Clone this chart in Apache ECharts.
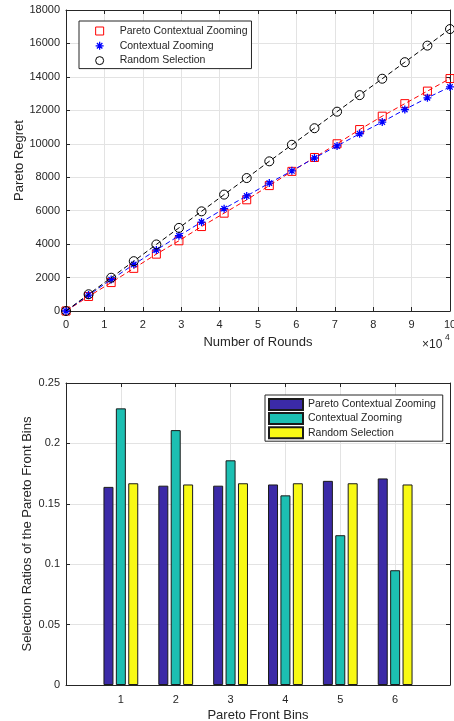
<!DOCTYPE html>
<html>
<head>
<meta charset="utf-8">
<script src="https://cdn.jsdelivr.net/npm/echarts@6/dist/echarts.min.js"></script>
<style>
  html, body { margin: 0; padding: 0; background: #fff; }
  #chart { width: 454px; height: 721px; }
</style>
</head>
<body>
<div id="chart"></div>
<script>
// top panel: regret vs rounds
var rounds = [0, 5882, 11765, 17647, 23529, 29412, 35294, 41176, 47059, 52941,
  58824, 64706, 70588, 76471, 82353, 88235, 94118, 100000]
var paretoCZ = [0, 870, 1700, 2550, 3400, 4200, 5050, 5850, 6650, 7500,
  8350, 9180, 10000, 10850, 11650, 12400, 13150, 13900]
var contextZ = [0, 950, 1880, 2780, 3650, 4500, 5320, 6120, 6880, 7650,
  8380, 9150, 9870, 10600, 11300, 12050, 12750, 13400]
var randomSel = [0, 1000, 1990, 2980, 3980, 4970, 5960, 6960, 7950, 8950,
  9940, 10930, 11920, 12910, 13890, 14880, 15870, 16860]

// bottom panel: selection ratios per bin
var bins = [1, 2, 3, 4, 5, 6]
var ratioPCZ = [0.164, 0.165, 0.165, 0.166, 0.169, 0.171]
var ratioCZ = [0.229, 0.211, 0.186, 0.157, 0.124, 0.095]
var ratioRS = [0.167, 0.166, 0.167, 0.167, 0.167, 0.166]

var names = ['Pareto Contextual Zooming', 'Contextual Zooming', 'Random Selection']

var ink = '#262626'
var gridGray = '#e3e3e3'
var font = 'Liberation Sans, Arial, Helvetica, sans-serif'
var starPath = 'path://M5,0L5,10M0,5L10,5M1.6,1.6L8.4,8.4M8.4,1.6L1.6,8.4'
var squarePath = 'path://M0,0L10,0L10,10L0,10Z'
var barColors = ['#3b2aa7', '#1cbfb2', '#f8f914']

function pairs(xs, ys) {
  return xs.map(function (x, i) { return [x, ys[i]] })
}

function boxAxis(type, gridIndex, pos, opt) {
  // mirror axis for the MATLAB-style box with inward ticks
  return Object.assign({
    type: 'value',
    gridIndex: gridIndex,
    position: pos,
    axisLine: { show: true, onZero: false, lineStyle: { color: ink, width: 1 } },
    axisTick: { show: true, inside: true, length: 4, lineStyle: { color: ink } },
    axisLabel: { show: false },
    splitLine: { show: false }
  }, opt)
}

var chart = echarts.init(document.getElementById('chart'), null, { renderer: 'canvas' })

chart.setOption({
  animation: false,
  backgroundColor: '#fff',
  textStyle: { fontFamily: font, color: ink },
  grid: [
    { left: 66, width: 384, top: 10, height: 301, outerBoundsMode: 'none' },
    { left: 66, width: 384, top: 383, height: 302, outerBoundsMode: 'none' }
  ],
  xAxis: [
    {
      type: 'value', gridIndex: 0, min: 0, max: 100000, interval: 10000,
      name: 'Number of Rounds', nameLocation: 'middle', nameGap: 25, nameMoveOverlap: false,
      nameTextStyle: { fontSize: 13, color: ink, fontFamily: font },
      axisLine: { show: true, onZero: false, lineStyle: { color: ink, width: 1 } },
      axisTick: { show: true, inside: true, length: 4, lineStyle: { color: ink } },
      axisLabel: { fontSize: 11, color: ink, margin: 8, fontFamily: font,
        formatter: function (v) { return String(v / 10000) } },
      splitLine: { show: true, lineStyle: { color: gridGray, width: 1 } }
    },
    boxAxis('value', 0, 'top', { min: 0, max: 100000, interval: 10000 }),
    {
      type: 'value', gridIndex: 1, min: 0, max: 7, interval: 1,
      name: 'Pareto Front Bins', nameLocation: 'middle', nameGap: 24, nameMoveOverlap: false,
      nameTextStyle: { fontSize: 13, color: ink, fontFamily: font },
      axisLine: { show: true, onZero: false, lineStyle: { color: ink, width: 1 } },
      axisTick: { show: true, inside: true, length: 4, lineStyle: { color: ink } },
      axisLabel: { fontSize: 11, color: ink, margin: 9, fontFamily: font,
        formatter: function (v) { return bins.indexOf(v) >= 0 ? String(v) : '' } },
      splitLine: { show: true, lineStyle: { color: gridGray, width: 1 } }
    },
    boxAxis('value', 1, 'top', { min: 0, max: 7, interval: 1 })
  ],
  yAxis: [
    {
      type: 'value', gridIndex: 0, min: 0, max: 18000, interval: 2000,
      name: 'Pareto Regret', nameLocation: 'middle', nameGap: 40, nameMoveOverlap: false,
      nameTextStyle: { fontSize: 13, color: ink, fontFamily: font },
      axisLine: { show: true, onZero: false, lineStyle: { color: ink, width: 1 } },
      axisTick: { show: true, inside: true, length: 4, lineStyle: { color: ink } },
      axisLabel: { fontSize: 11, color: ink, margin: 6, fontFamily: font,
        formatter: function (v) { return String(v) } },
      splitLine: { show: true, lineStyle: { color: gridGray, width: 1 } }
    },
    boxAxis('value', 0, 'right', { min: 0, max: 18000, interval: 2000 }),
    {
      type: 'value', gridIndex: 1, min: 0, max: 0.25, interval: 0.05,
      name: 'Selection Ratios of the Pareto Front Bins', nameLocation: 'middle', nameGap: 32,
      nameMoveOverlap: false,
      nameTextStyle: { fontSize: 13, color: ink, fontFamily: font },
      axisLine: { show: true, onZero: false, lineStyle: { color: ink, width: 1 } },
      axisTick: { show: true, inside: true, length: 4, lineStyle: { color: ink } },
      axisLabel: { fontSize: 11, color: ink, margin: 6, fontFamily: font,
        formatter: function (v) { return v === 0 ? '0' : String(+v.toFixed(2)) } },
      splitLine: { show: true, lineStyle: { color: gridGray, width: 1 } }
    },
    boxAxis('value', 1, 'right', { min: 0, max: 0.25, interval: 0.05 })
  ],
  legend: [
    {
      orient: 'vertical', left: 79, top: 21,
      padding: [4, 4, 2, 16], itemGap: 2.8, itemWidth: 30, itemHeight: 8,
      symbolKeepAspect: true,
      backgroundColor: '#fff', borderColor: ink, borderWidth: 1, borderRadius: 0,
      textStyle: { fontSize: 10.5, color: ink, fontFamily: font, lineHeight: 12 },
      data: [
        { name: names[0], icon: squarePath,
          itemStyle: { color: 'rgba(0,0,0,0)', borderColor: '#ff0000', borderWidth: 1 } },
        { name: names[1], icon: starPath,
          itemStyle: { color: 'rgba(0,0,0,0)', borderColor: '#0000ff', borderWidth: 1.3 } },
        { name: names[2], icon: 'circle',
          itemStyle: { color: 'rgba(0,0,0,0)', borderColor: '#000000', borderWidth: 1 } }
      ],
      selectedMode: false
    },
    {
      orient: 'vertical', left: 265, top: 395,
      padding: [3, 4, 2, 3], itemGap: 1.1, itemWidth: 34, itemHeight: 11,
      backgroundColor: '#fff', borderColor: ink, borderWidth: 1, borderRadius: 0,
      textStyle: { fontSize: 10.5, color: ink, fontFamily: font, lineHeight: 11 },
      data: [
        { name: names[0] + ' ', icon: 'rect' },
        { name: names[1] + ' ', icon: 'rect' },
        { name: names[2] + ' ', icon: 'rect' }
      ],
      selectedMode: false
    }
  ],
  graphic: [
    { type: 'text', left: 422, top: 339, style: { text: '×10', fontSize: 12, fill: ink, fontFamily: font } },
    { type: 'text', left: 445, top: 333, style: { text: '4', fontSize: 8.5, fill: ink, fontFamily: font } }
  ],
  series: [
    {
      name: names[0], type: 'line', xAxisIndex: 0, yAxisIndex: 0,
      data: pairs(rounds, paretoCZ),
      symbol: 'rect', symbolSize: 8,
      lineStyle: { color: '#ff0000', width: 1, type: [5, 3] },
      itemStyle: { color: 'rgba(0,0,0,0)', borderColor: '#ff0000', borderWidth: 1 },
      z: 2
    },
    {
      name: names[1], type: 'line', xAxisIndex: 0, yAxisIndex: 0,
      data: pairs(rounds, contextZ),
      symbol: starPath, symbolSize: 8,
      lineStyle: { color: '#0000ff', width: 1, type: [5, 3] },
      itemStyle: { color: 'rgba(0,0,0,0)', borderColor: '#0000ff', borderWidth: 1.3 },
      z: 3
    },
    {
      name: names[2], type: 'line', xAxisIndex: 0, yAxisIndex: 0,
      data: pairs(rounds, randomSel),
      symbol: 'circle', symbolSize: 9,
      lineStyle: { color: '#000000', width: 1, type: [5, 3] },
      itemStyle: { color: 'rgba(0,0,0,0)', borderColor: '#000000', borderWidth: 1 },
      z: 4
    },
    {
      name: names[0] + ' ', type: 'bar', xAxisIndex: 2, yAxisIndex: 2,
      data: pairs(bins, ratioPCZ), barWidth: 10, barGap: '24%',
      itemStyle: { color: barColors[0], borderColor: '#1a1a1a', borderWidth: 1 }
    },
    {
      name: names[1] + ' ', type: 'bar', xAxisIndex: 2, yAxisIndex: 2,
      data: pairs(bins, ratioCZ), barWidth: 10, barGap: '24%',
      itemStyle: { color: barColors[1], borderColor: '#1a1a1a', borderWidth: 1 }
    },
    {
      name: names[2] + ' ', type: 'bar', xAxisIndex: 2, yAxisIndex: 2,
      data: pairs(bins, ratioRS), barWidth: 10, barGap: '24%',
      itemStyle: { color: barColors[2], borderColor: '#1a1a1a', borderWidth: 1 }
    }
  ]
})
</script>
</body>
</html>
